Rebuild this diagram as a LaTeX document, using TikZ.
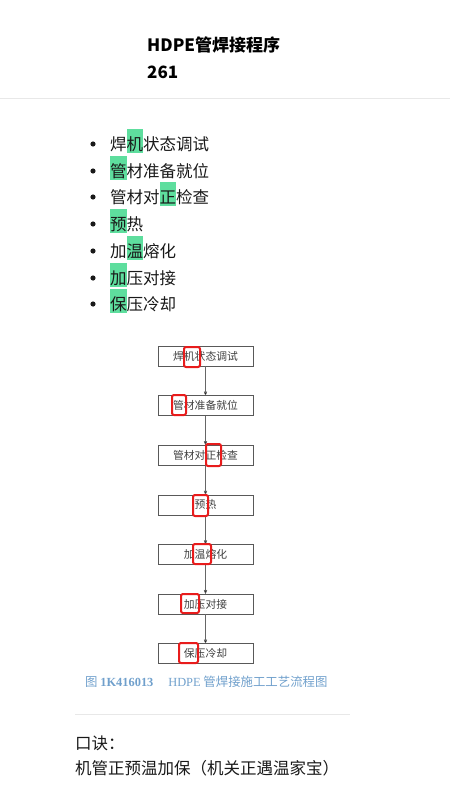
\documentclass[tikz,border=0pt]{standalone}
\usepackage{fontspec}
\setmainfont{Noto Sans CJK SC}
\newfontfamily\capfont{Liberation Serif}
\usepackage{tikz}
\usetikzlibrary{arrows}
\definecolor{hlgreen}{RGB}{94,222,158}
\definecolor{capblue}{RGB}{112,160,204}
\definecolor{markred}{RGB}{232,28,28}
\definecolor{rulegray}{RGB}{232,232,232}
\newcommand{\hlchar}[1]{{\setlength{\fboxsep}{0pt}\colorbox{hlgreen}{\rule[-3pt]{0pt}{24pt}#1}}}

\begin{document}
\begin{tikzpicture}[x=1pt,y=-1pt,>=stealth',node distance=49.6pt]
		\tikzstyle{item}=[anchor=base west,inner sep=0pt,font=\fontsize{16.5}{18}\selectfont,text=black!90]
		\tikzstyle{stepbox}=[draw=black!65,fill=white,minimum width=95pt,minimum height=20pt,inner sep=0pt,font=\fontsize{10.8}{12}\selectfont,text=black!75]
		\tikzstyle{flow}=[->,draw=black!60,line width=0.5pt]
		\tikzstyle{redmark}=[draw=markred,line width=2pt,rounded corners=2pt]
		\useasboundingbox (0,0) rectangle (450,795);
		% title
		\node[anchor=base west,inner sep=0pt,font=\fontsize{17}{20}\selectfont\bfseries] (T) at (147,51) {HDPE管焊接程序};
		\node[anchor=base west,inner sep=0pt,font=\fontsize{17}{20}\selectfont\bfseries] (N) at (147,78) {261};
		\draw[rulegray,line width=0.8pt] (0,98) -- (450,98);
		% list
		\node[item] (L1) at (110,150) {焊\hlchar{机}状态调试};
		\node[item] (L2) at (110,177) {\hlchar{管}材准备就位};
		\node[item] (L3) at (110,203) {管材对\hlchar{正}检查};
		\node[item] (L4) at (110,230) {\hlchar{预}热};
		\node[item] (L5) at (110,257) {加\hlchar{温}熔化};
		\node[item] (L6) at (110,284) {\hlchar{加}压对接};
		\node[item] (L7) at (110,310) {\hlchar{保}压冷却};
		\foreach \y in {144,171,197,224,251,278,304}
			\fill[black!90] (93,\y) circle (2.6pt);
		% flow chart
		\node[stepbox] (A) at (205.5,356) {焊机状态调试};
		\node[stepbox] (B) [below of=A] {管材准备就位};
		\node[stepbox] (C) [below of=B] {管材对正检查};
		\node[stepbox] (D) [below of=C] {预热};
		\node[stepbox] (E) [below of=D] {加温熔化};
		\node[stepbox] (F) [below of=E] {加压对接};
		\node[stepbox] (G) [below of=F] {保压冷却};
		\path[flow]
		(A) edge (B)
		(B) edge (C)
		(C) edge (D)
		(D) edge (E)
		(E) edge (F)
		(F) edge (G);
		\draw[redmark] (184,347) rectangle (200,367);
		\draw[redmark] (172,395) rectangle (186,415);
		\draw[redmark] (206,444) rectangle (221,466);
		\draw[redmark] (193,495) rectangle (208,516);
		\draw[redmark] (193,544) rectangle (211,564);
		\draw[redmark] (181,594) rectangle (199,613);
		\draw[redmark] (179,643) rectangle (198,663);
		\node[anchor=west,inner sep=0pt,text=capblue,font=\fontsize{12.4}{14}\selectfont] (cap) at (85,682)
			{图 {\capfont\bfseries 1K416013}\hspace{1.2em}{\capfont HDPE} 管焊接施工工艺流程图};
		% mnemonic
		\draw[rulegray,line width=0.8pt] (75,714) -- (350,714);
		\node[item] (K1) at (75,749) {口诀：};
		\node[item] (K2) at (75,774) {机管正预温加保（机关正遇温家宝）};
\end{tikzpicture}
\end{document}
